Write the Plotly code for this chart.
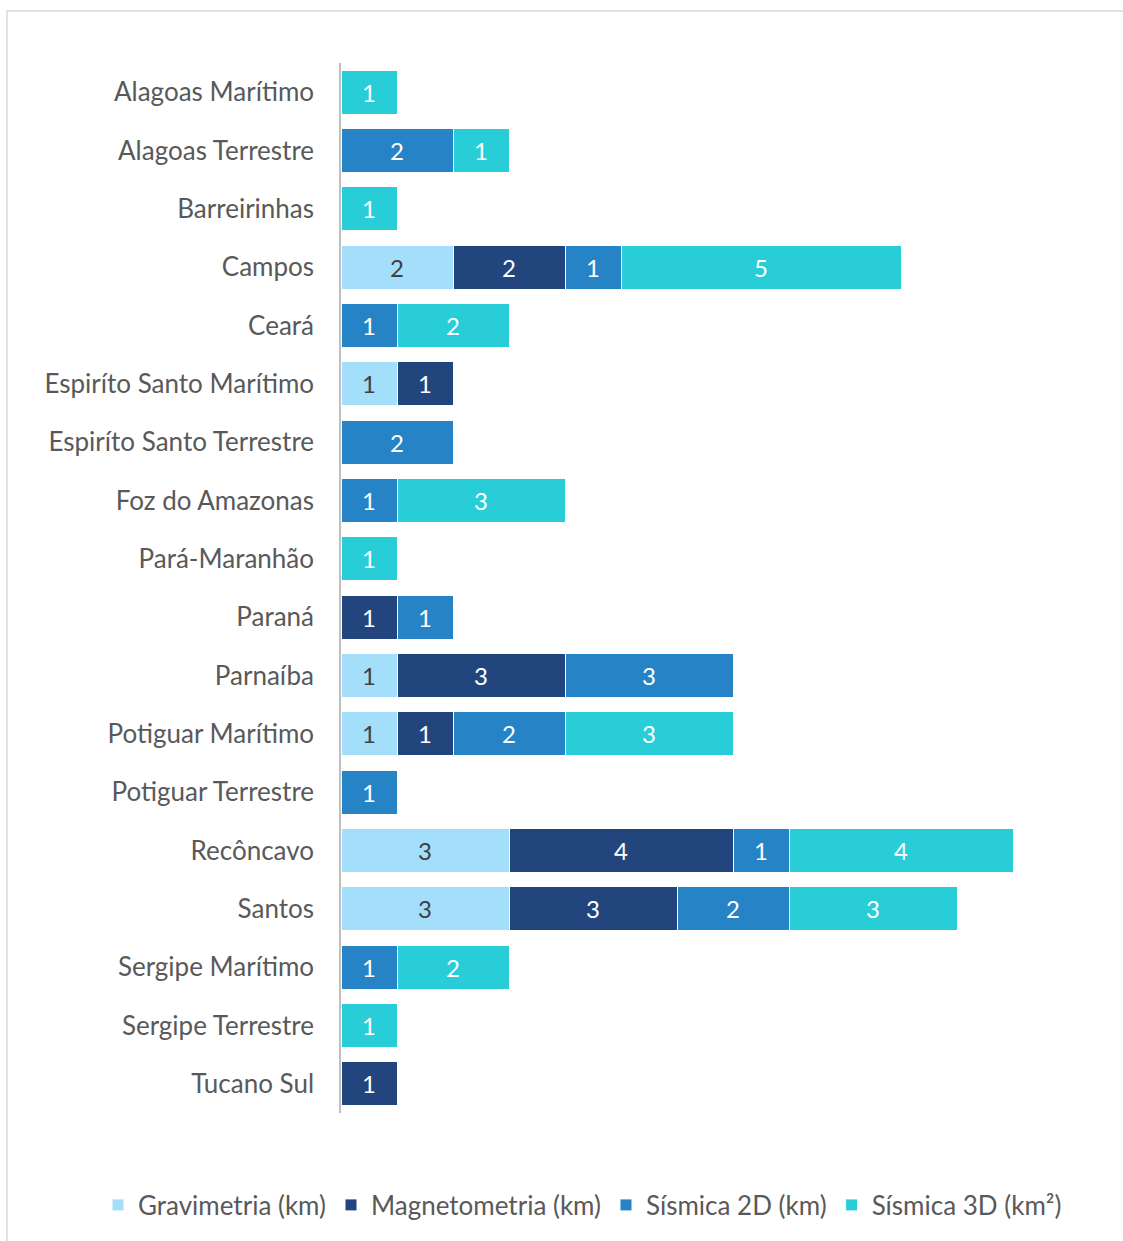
import plotly.graph_objects as go

# Sedimentary basins (top to bottom)
bacias = [
    "Alagoas Marítimo", "Alagoas Terrestre", "Barreirinhas", "Campos", "Ceará",
    "Espiríto Santo Marítimo", "Espiríto Santo Terrestre", "Foz do Amazonas",
    "Pará-Maranhão", "Paraná", "Parnaíba", "Potiguar Marítimo", "Potiguar Terrestre",
    "Recôncavo", "Santos", "Sergipe Marítimo", "Sergipe Terrestre", "Tucano Sul",
]

# Survey counts per method (None = no survey)
gravimetria = [None, None, None, 2, None, 1, None, None, None, None, 1, 1, None, 3, 3, None, None, None]
magnetometria = [None, None, None, 2, None, 1, None, None, None, 1, 3, 1, None, 4, 3, None, None, 1]
sismica_2d = [None, 2, None, 1, 1, None, 2, 1, None, 1, 3, 2, 1, 1, 2, 1, None, None]
sismica_3d = [1, 1, 1, 5, 2, None, None, 3, 1, None, None, 3, None, 4, 3, 2, 1, None]

series = [
    ("Gravimetria (km)", gravimetria, "#A3DEFA", "#404040"),
    ("Magnetometria (km)", magnetometria, "#23457D", "#FFFFFF"),
    ("Sísmica 2D (km)", sismica_2d, "#2683C6", "#FFFFFF"),
    ("Sísmica 3D (km²)", sismica_3d, "#29CDD7", "#FFFFFF"),
]

FONT = "Lato"

fig = go.Figure()
for nome, valores, cor, cor_txt in series:
    fig.add_trace(go.Bar(
        y=bacias, x=valores, name=nome, orientation="h",
        marker=dict(color=cor, line=dict(color="#FFFFFF", width=1)),
        text=valores, texttemplate="%{x}", textposition="inside",
        insidetextanchor="middle",
        textfont=dict(family=FONT, size=24, color=cor_txt),
        cliponaxis=False,
    ))

W, H = 1123, 1241
L, R, T, B = 341, 26, 63, 128
pw = W - L - R
ph = H - T - B

def px_to_paper_x(px):
    return (px - L) / pw

def px_to_paper_y(py):
    return (H - B - py) / ph

fig.update_layout(
    width=W, height=H,
    margin=dict(l=L, r=R, t=T, b=B, autoexpand=False),
    barmode="stack", bargap=0.245,
    paper_bgcolor="white", plot_bgcolor="white",
    font=dict(family=FONT, color="#595959"),
    xaxis=dict(range=[0, 13.5], visible=False, showgrid=False, zeroline=False),
    yaxis=dict(
        autorange="reversed", showgrid=False, zeroline=False,
        showline=True, linecolor="#BFBFBF", linewidth=1.5,
        ticks="", ticklabelstandoff=20,
        tickfont=dict(family=FONT, size=26, color="#595959"),
    ),
    uniformtext=dict(mode=False),
    legend=dict(
        orientation="h", xref="paper", yref="paper",
        x=px_to_paper_x(98), xanchor="left",
        y=px_to_paper_y(1205), yanchor="middle",
        font=dict(family=FONT, size=26, color="#595959"),
        itemwidth=30, traceorder="normal",
    ),
    shapes=[dict(
        type="rect", xref="paper", yref="paper", layer="below",
        x0=px_to_paper_x(7), x1=px_to_paper_x(1135),
        y0=px_to_paper_y(1260), y1=px_to_paper_y(11),
        line=dict(color="#D9D9D9", width=1.5), fillcolor="rgba(0,0,0,0)",
    )],
)

fig.write_html("out.html")
